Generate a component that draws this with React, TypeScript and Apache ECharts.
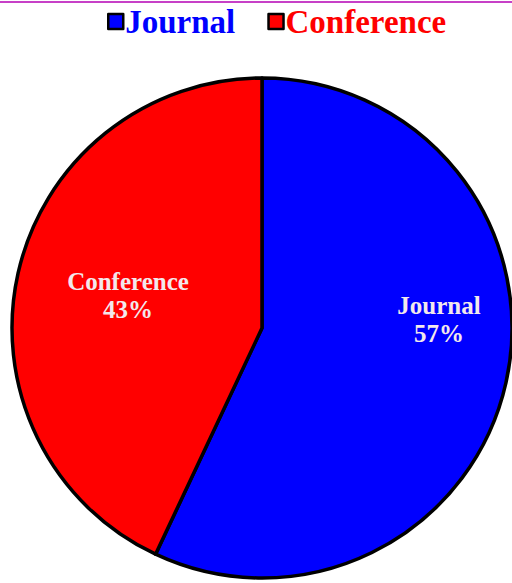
import React, { useEffect, useRef } from "react";
import * as echarts from "echarts";

const categories = ["Journal", "Conference"];
const values = [57, 43];
const colors = ["#0000FF", "#FF0000"];

export default function App() {
  const ref = useRef<HTMLDivElement>(null);
  useEffect(() => {
    document.body.style.margin = "0";
    const chart = echarts.init(ref.current!, undefined, { renderer: "svg" });
    const font = "'Liberation Serif', 'Times New Roman', serif";
    const total = values.reduce((a, b) => a + b, 0);
    const labelPos = [
      [439, 319],
      [128, 295],
    ];
    chart.setOption({
      animation: false,
      backgroundColor: "#ffffff",
      legend: {
        top: 0,
        left: 102,
        itemWidth: 15,
        itemHeight: 15,
        itemGap: 32,
        icon: "rect",
        itemStyle: { borderColor: "#000000", borderWidth: 2.5 },
        data: categories.map((c, i) => ({
          name: c,
          textStyle: { color: colors[i] },
        })),
        textStyle: {
          fontFamily: font,
          fontWeight: "bold",
          fontSize: 33,
          padding: [1, 0, 0, -3],
        },
      },
      graphic: [
        {
          type: "line",
          shape: { x1: 0, y1: 2, x2: 512, y2: 2 },
          style: { stroke: "#b400b4", lineWidth: 1.5 },
        },
        ...categories.map((c, i) => ({
          type: "text",
          x: labelPos[i][0],
          y: labelPos[i][1],
          z: 100,
          style: {
            text: `${c}\n${Math.round((values[i] / total) * 100)}%`,
            fill: "#f3e8ec",
            font: `bold 25px ${font}`,
            align: "center",
            verticalAlign: "middle",
            lineHeight: 28,
          },
        })),
      ],
      series: [
        {
          type: "pie",
          center: [262, 328],
          radius: 250,
          startAngle: 90,
          clockwise: true,
          label: { show: false },
          labelLine: { show: false },
          emphasis: { disabled: true },
          itemStyle: { borderColor: "#000000", borderWidth: 3.5 },
          data: categories.map((c, i) => ({
            name: c,
            value: values[i],
            itemStyle: { color: colors[i] },
          })),
        },
      ],
    });
    return () => chart.dispose();
  }, []);
  return (
    <div
      ref={ref}
      style={{ position: "absolute", left: 0, top: 0, width: 512, height: 583 }}
    />
  );
}
